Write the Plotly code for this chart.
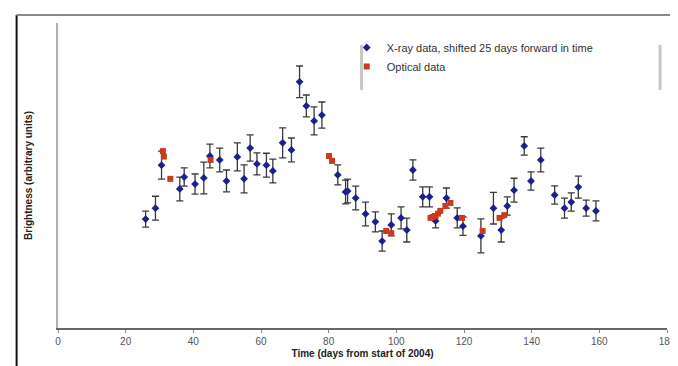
import plotly.graph_objects as go

# X-ray data (shifted 25 days forward)
xray_day = [25.9, 28.8, 30.6, 36.0, 37.3, 40.5, 43.1, 44.9, 47.8, 49.8, 53.0, 55.0, 56.8,
            58.8, 61.6, 63.5, 66.4, 69.0, 71.4, 73.4, 75.7, 78.0, 82.7, 85.0, 85.6, 88.0,
            90.9, 93.8, 95.8, 98.5, 101.4, 103.1, 104.9, 107.8, 109.8, 111.6, 114.8, 118.0,
            119.7, 125.0, 128.7, 131.0, 132.8, 134.8, 137.8, 139.8, 142.7, 146.8, 149.7,
            151.7, 153.8, 156.1, 159.0]
xray_brightness = [3.57, 3.93, 5.34, 4.56, 4.95, 4.72, 4.92, 5.64, 5.51, 4.82, 5.61, 4.89, 5.90,
                   5.38, 5.34, 5.15, 6.07, 5.84, 8.07, 7.28, 6.79, 6.98, 5.02, 4.46, 4.49, 4.26,
                   3.74, 3.48, 2.85, 3.38, 3.61, 3.21, 5.18, 4.30, 4.30, 3.51, 4.26, 3.61,
                   3.34, 3.02, 3.93, 3.21, 4.00, 4.52, 5.97, 4.82, 5.51, 4.36, 3.93,
                   4.13, 4.62, 3.93, 3.84]
xray_err = [0.26, 0.39, 0.46, 0.39, 0.30, 0.33, 0.52, 0.39, 0.39, 0.36, 0.46, 0.46, 0.43,
            0.36, 0.39, 0.39, 0.49, 0.39, 0.52, 0.36, 0.46, 0.43, 0.33, 0.39, 0.39, 0.39,
            0.39, 0.33, 0.33, 0.36, 0.36, 0.39, 0.33, 0.33, 0.33, 0.23, 0.33, 0.33,
            0.30, 0.56, 0.52, 0.39, 0.30, 0.39, 0.30, 0.30, 0.39, 0.30, 0.33,
            0.30, 0.36, 0.26, 0.33]

# Optical data
optical_day = [31.0, 31.3, 33.2, 45.1, 80.1, 81.0, 97.0, 98.5, 110.1, 110.8, 111.6, 112.3,
               113.0, 114.5, 116.0, 119.4, 125.5, 130.5, 131.9]
optical_brightness = [5.80, 5.62, 4.89, 5.51, 5.64, 5.48, 3.18, 3.11, 3.61, 3.64, 3.67, 3.75,
                      3.84, 4.00, 4.10, 3.61, 3.18, 3.61, 3.70]

x_ticks = [0, 20, 40, 60, 80, 100, 120, 140, 160, 180]

fig = go.Figure()
fig.add_trace(go.Scatter(
    x=xray_day, y=xray_brightness, mode="markers",
    name="X-ray data, shifted 25 days forward in time",
    marker=dict(symbol="diamond", size=6, color="#1c1f8f"),
    error_y=dict(type="data", array=xray_err, visible=True, color="#3a3a3a",
                 thickness=1.3, width=3.5),
))
fig.add_trace(go.Scatter(
    x=optical_day, y=optical_brightness, mode="markers",
    name="Optical data",
    marker=dict(symbol="square", size=6, color="#cc3a1c"),
))

def px_x(p):
    return (p - 50) / 618.0

def px_y(p):
    return (320 - p) / 305.0

shapes = [
    # outer frame
    dict(type="line", xref="paper", yref="paper", x0=px_x(8), x1=px_x(8), y0=px_y(7), y1=px_y(370),
         line=dict(color="#111111", width=2)),
    dict(type="line", xref="paper", yref="paper", x0=px_x(8), x1=px_x(680), y0=px_y(7), y1=px_y(7),
         line=dict(color="#8a8a8a", width=2)),
    # legend side bars
    dict(type="line", xref="paper", yref="paper", x0=px_x(358), x1=px_x(358), y0=px_y(37), y1=px_y(82),
         line=dict(color="#c8c8c8", width=3)),
    dict(type="line", xref="paper", yref="paper", x0=px_x(661), x1=px_x(661), y0=px_y(37), y1=px_y(82),
         line=dict(color="#c8c8c8", width=3)),
]

fig.update_layout(
    width=678, height=366,
    margin=dict(l=50, r=10, t=15, b=46),
    paper_bgcolor="white", plot_bgcolor="white",
    font=dict(family="Liberation Sans, Arial, sans-serif", size=10, color="#333333"),
    showlegend=True,
    legend=dict(x=px_x(343), y=px_y(25), xanchor="left", yanchor="top",
                bgcolor="rgba(0,0,0,0)", borderwidth=0,
                font=dict(size=11, color="#333333"), itemwidth=30, tracegroupgap=0),
    shapes=shapes,
    xaxis=dict(range=[0, 180], tickvals=x_ticks, ticktext=[str(t) for t in x_ticks],
               showgrid=False, zeroline=False, showline=True, linecolor="#666666", linewidth=1.5,
               ticks="outside", ticklen=3, tickcolor="#888888",
               tickfont=dict(size=10, color="#555555"),
               title=dict(text="<b>Time (days from start of 2004)</b>", font=dict(size=10, color="#222222"),
                          standoff=4)),
    yaxis=dict(range=[0, 10], showgrid=False, zeroline=False, showline=True,
               linecolor="#b0b0b0", linewidth=2, showticklabels=False, ticks="",
               title=dict(text="<b>Brightness (arbitrary units)</b>", font=dict(size=10, color="#222222"),
                          standoff=22)),
)

fig.write_html("out.html")
